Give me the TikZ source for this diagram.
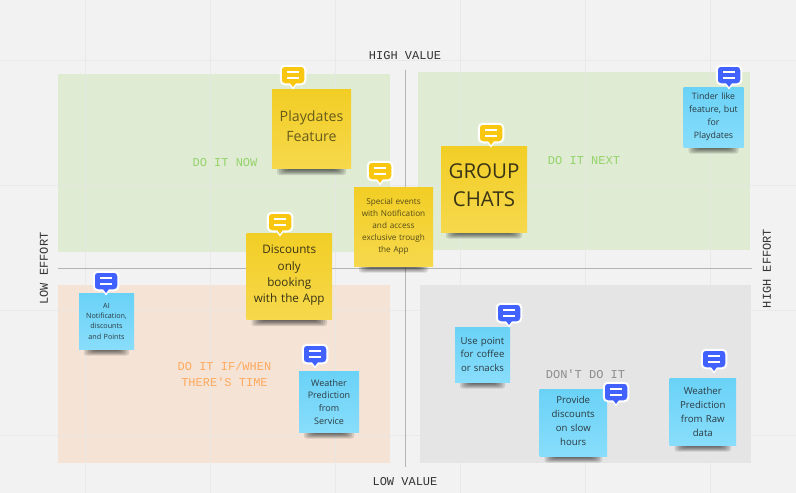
\documentclass[tikz,border=0pt]{standalone}
\usepackage{fontspec}
\setmainfont{Open Sans}
\newfontfamily\labelmono{Liberation Mono}
\definecolor{bgc}{HTML}{F2F2F2}
\definecolor{gridc}{HTML}{E6E6E6}
\definecolor{axisc}{HTML}{B4B4B4}
\definecolor{greenq}{HTML}{DFEBD3}
\definecolor{orangeq}{HTML}{F5E4D6}
\definecolor{greyq}{HTML}{E5E5E5}
\definecolor{yellowa}{HTML}{F2CE25}
\definecolor{yellowb}{HTML}{F6D84C}
\definecolor{bluea}{HTML}{6AD2F7}
\definecolor{blueb}{HTML}{88DDFB}
\definecolor{pinblue}{HTML}{4262FF}
\definecolor{pinyellow}{HTML}{FAC710}
\definecolor{inkc}{HTML}{2B3A40}
\definecolor{inkd}{HTML}{3A3416}
\definecolor{lblgreen}{HTML}{94D36A}
\definecolor{lblorange}{HTML}{FFA95C}
\definecolor{lblgrey}{HTML}{8C8C8C}
\tikzset{
  gridline/.style={draw=gridc,line width=1pt},
  axisline/.style={draw=axisc,line width=.9pt},
  axislabel/.style={font=\labelmono\fontsize{12}{14}\selectfont,text=black!80,inner sep=0pt},
  quadlabel/.style={font=\labelmono\fontsize{12}{16}\selectfont,align=center,inner sep=0pt},
  yellownote/.style={top color=yellowa,bottom color=yellowb,text=inkd},
  bluenote/.style={top color=bluea,bottom color=blueb,text=inkc},
  pinbox/.style={draw=white,line width=2pt,rounded corners=4pt,minimum width=24.5pt,minimum height=18.5pt,inner sep=0pt},
}
% \sticky{name}{x1}{y1}{x2}{y2}{style}{size}{leading}{text}
\newcommand{\sticky}[9]{%
  \foreach \ins/\ext in {5/6.5,7/5.5,9/4.5,11/3.5,13/2.5,15/1.5}{%
    \fill[black,opacity=0.12,rounded corners=2.5pt] ({#2+\ins},{#5-2}) rectangle ({#4-\ins},{#5+\ext});}
  \node[#6,inner sep=0pt,minimum width={(#4-#2)*1pt},minimum height={(#5-#3)*1pt},
        text width={(#4-#2-2)*1pt},align=center,
        font=\fontsize{#7}{#8}\selectfont] (#1) at ({(#2+#4)/2},{(#3+#5)/2}) {#9};}
% \pin{name}{cx}{ytop}{colour}
\newcommand{\pin}[4]{%
  \fill[white] ({#2-5},{#3+18}) -- ({#2+5},{#3+18}) -- (#2,{#3+24.5}) -- cycle;
  \node[pinbox,fill=#4] (#1) at (#2,{#3+10}) {};
  \fill[#4] ({#2-3},{#3+18}) -- ({#2+3},{#3+18}) -- (#2,{#3+22}) -- cycle;
  \draw[white,line width=1.8pt] ([xshift=-6pt,yshift=3.2pt]#1.center) -- ([xshift=6pt,yshift=3.2pt]#1.center);
  \draw[white,line width=1.8pt] ([xshift=-6pt,yshift=-3.2pt]#1.center) -- ([xshift=6pt,yshift=-3.2pt]#1.center);}
\begin{document}
\begin{tikzpicture}[x=1pt,y=-1pt]
\useasboundingbox (0,0) rectangle (796,493);
\fill[bgc] (0,0) rectangle (796,493);
% quadrants
\fill[greenq] (58,74) rectangle (390,252);
\fill[greenq] (418,72) rectangle (750,250);
\fill[orangeq] (58,285) rectangle (390,463);
\fill[greyq] (420,285) rectangle (751,463);
% board grid
\foreach \gx in {85,210,335,460,585,710}{\draw[gridline,opacity=.75] (\gx,0) -- (\gx,493);}
\foreach \gy in {60,185,310,435}{\draw[gridline,opacity=.75] (0,\gy) -- (796,\gy);}
% axes
\coordinate (vtop) at (405,70); \coordinate (vbot) at (405,467);
\coordinate (hleft) at (58,268); \coordinate (hright) at (752,268);
\draw[axisline] (vtop) -- (vbot);
\draw[axisline] (hleft) -- (hright);
% axis labels
\node[axislabel] (hv) at (405,55.5) {HIGH VALUE};
\node[axislabel] (lv) at (405,482) {LOW VALUE};
\node[axislabel,rotate=90] (le) at (44,268.5) {LOW EFFORT};
\node[axislabel,rotate=90] (he) at (767,268.5) {HIGH EFFORT};
% quadrant labels
\node[quadlabel,text=lblgreen] (q1) at (225,163) {DO IT NOW};
\node[quadlabel,text=lblgreen] (q2) at (584,161) {DO IT NEXT};
\node[quadlabel,text=lblorange] (q3) at (224.5,374.5) {DO IT IF/WHEN\\THERE'S TIME};
\node[quadlabel,text=lblgrey] (q4) at (585.5,374) {DON'T DO IT};
% notes
\sticky{playdates}{272}{89.5}{351}{168.5}{yellownote,text=inkd!75!yellowa}{14.2}{20}{Playdates\\Feature\par\vspace*{6pt}}
\sticky{group}{441}{146}{527}{232}{yellownote}{20.5}{28}{GROUP\\CHATS\par\vspace*{8pt}}
\sticky{special}{354}{187}{433}{266}{yellownote,text=inkd!85!yellowa}{8.2}{12}{Special events\\with Notification\\and access\\exclusive trough\\the App}
\sticky{discounts}{246.5}{233.5}{332}{319.5}{yellownote}{11.7}{16.4}{Discounts\\only\\booking\\with the App\par\vspace*{2pt}}
\sticky{ai}{79}{293.5}{134}{349}{bluenote}{7.2}{10.3}{AI\\Notification,\\discounts\\and Points}
\sticky{wservice}{299}{371.5}{359}{432}{bluenote}{9}{12.6}{Weather\\Prediction\\from\\Service}
\sticky{usepoint}{455}{327}{510}{382}{bluenote}{9.6}{13.7}{Use point\\for coffee\\or snacks}
\sticky{provide}{539.5}{389}{607}{456}{bluenote}{9.6}{14}{Provide\\discounts\\on slow\\hours\par\vspace*{3pt}}
\sticky{wraw}{669.5}{378.5}{736}{445}{bluenote}{9.6}{14}{Weather\\Prediction\\from Raw\\data}
\sticky{tinder}{683.5}{87}{743.5}{147}{bluenote}{8.8}{13}{Tinder like\\feature, but\\for\\Playdates}
% comment pins
\pin{p1}{293}{65}{pinyellow}
\pin{p2}{491}{123}{pinyellow}
\pin{p3}{380}{161}{pinyellow}
\pin{p4}{280}{212}{pinyellow}
\pin{p5}{106}{271}{pinblue}
\pin{p6}{315}{344}{pinblue}
\pin{p7}{509}{303}{pinblue}
\pin{p8}{616}{382}{pinblue}
\pin{p9}{714}{349}{pinblue}
\pin{p10}{729}{65}{pinblue}
\end{tikzpicture}
\end{document}
